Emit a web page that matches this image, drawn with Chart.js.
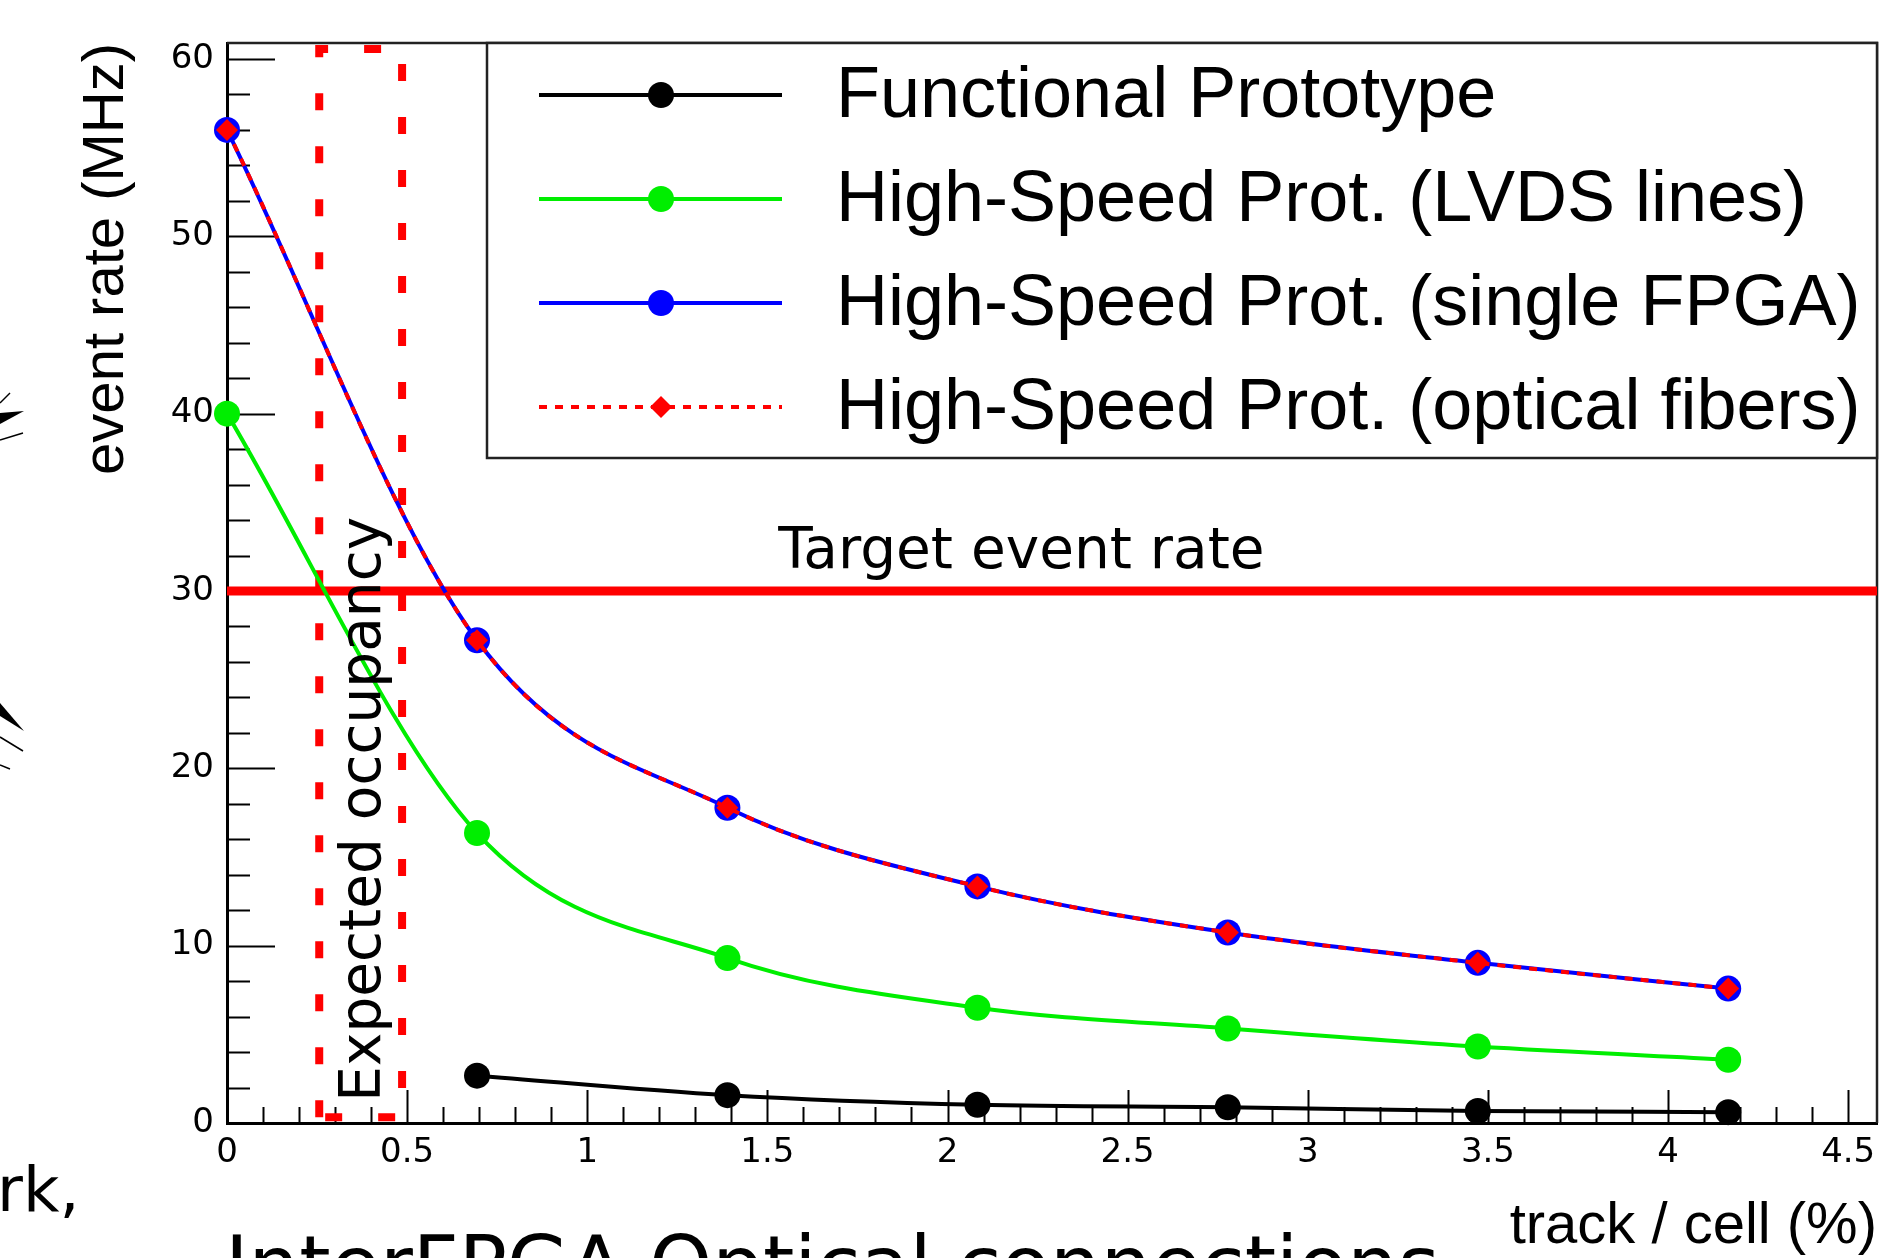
<!DOCTYPE html>
<html lang="en">
<head>
<meta charset="UTF-8">
<title>Event rate vs. track / cell occupancy</title>
<script src="https://cdn.jsdelivr.net/npm/chart.js@4.4.1/dist/chart.umd.min.js"></script>
<style>
  html, body { margin: 0; padding: 0; background: #fff; }
  #wrap { position: relative; width: 1902px; height: 1258px; overflow: hidden; }
  #chart { position: absolute; left: 0; top: 0; }
  .slide-text { position: absolute; font-family: 'DejaVu Sans', sans-serif; color: #000; white-space: nowrap; line-height: 1; }
  #arrows { position: absolute; left: 0; top: 0; }
</style>
</head>
<body>
<div id="wrap">
  <canvas id="chart" width="1902" height="1258"></canvas>
  <!-- bits of the surrounding slide that show in the picture -->
  <svg id="arrows" width="30" height="800">
    <line x1="0" y1="403" x2="10" y2="393" stroke="#000" stroke-width="1.5"/>
    <polygon points="0,413 24,411 0,424" fill="#000"/>
    <line x1="0" y1="440" x2="23" y2="433" stroke="#000" stroke-width="1.5"/>
    <polygon points="0,703 24,731 0,716" fill="#000"/>
    <line x1="0" y1="737" x2="23" y2="751" stroke="#000" stroke-width="1.5"/>
    <line x1="0" y1="765" x2="10" y2="769" stroke="#000" stroke-width="1.5"/>
  </svg>
  <div class="slide-text" style="left:-3px; top:1158px; font-size:63px;">rk,</div>
  <div class="slide-text" style="left:225px; top:1226px; font-size:80px;">InterFPGA Optical connections</div>
</div>

<script>
// x: track / cell (%), one point per extra track in 144 cells
const occupancy = [0, 0.694, 1.389, 2.083, 2.778, 3.472, 4.167];

// event rate (MHz) per prototype
const functionalProto = [null, 2.67, 1.57, 1.03, 0.89, 0.68, 0.61];
const lvdsLines = [40.0, 16.35, 9.3, 6.5, 5.33, 4.31, 3.57];
const singleFpga = [56.0, 27.22, 17.78, 13.34, 10.74, 9.03, 7.58];
const opticalFibers = [56.0, 27.22, 17.78, 13.34, 10.74, 9.03, 7.58];

const seriesNames = [
    'Functional Prototype',
    'High-Speed Prot. (LVDS lines)',
    'High-Speed Prot. (single FPGA)',
    'High-Speed Prot. (optical fibers)'
];

const targetRate = 30;
const expectedOccupancy = [0.256, 0.486];   // x range of the dashed box
const expectedBoxY = [0.33, 60.56];

const xTicks = [0, 0.5, 1, 1.5, 2, 2.5, 3, 3.5, 4, 4.5];
const yTicks = [0, 10, 20, 30, 40, 50, 60];
const xRange = [0, 4.58];
const yRange = [0, 60.9];

const pts = ys => occupancy.map((x, i) => ({ x, y: ys[i] })).filter(p => p.y !== null);

const series = (label, data, color, extra) => Object.assign({
    label, data,
    borderColor: color,
    backgroundColor: color,
    pointBackgroundColor: color,
    borderWidth: 4,
    pointRadius: 13,
    pointHoverRadius: 13,
    pointBorderWidth: 0,
    cubicInterpolationMode: 'monotone',
    clip: false,
    isSeries: true
}, extra);

const datasets = [
    series(seriesNames[0], pts(functionalProto), '#000000', { order: 4, legendRow: 0 }),
    series(seriesNames[1], pts(lvdsLines), '#00ee00', { order: 3, legendRow: 1 }),
    series(seriesNames[2], pts(singleFpga), '#0000ff', { order: 2, legendRow: 2 }),
    series(seriesNames[3], pts(opticalFibers), '#ff0000', {
        order: 1, legendRow: 3, borderDash: [8, 8], pointStyle: 'rectRot', pointRadius: 11, pointHoverRadius: 11
    }),
    {
        label: 'Target event rate',
        data: [{ x: xRange[0], y: targetRate }, { x: xRange[1], y: targetRate }],
        borderColor: '#ff0000', borderWidth: 9, pointRadius: 0, tension: 0, order: 5
    },
    {
        label: 'Expected occupancy',
        data: [
            { x: expectedOccupancy[0], y: expectedBoxY[0] },
            { x: expectedOccupancy[0], y: expectedBoxY[1] },
            { x: expectedOccupancy[1], y: expectedBoxY[1] },
            { x: expectedOccupancy[1], y: expectedBoxY[0] },
            { x: expectedOccupancy[0], y: expectedBoxY[0] }
        ],
        borderColor: '#ff0000', borderWidth: 8, borderDash: [17, 36], borderCapStyle: 'butt',
        pointRadius: 0, tension: 0, order: 6
    }
];

// ROOT-like frame: inward ticks, top/right frame, legend box, labels
const rootStyle = {
    id: 'rootStyle',
    beforeDatasetsDraw(chart) {
        const { ctx, chartArea: a, scales: { x, y } } = chart;
        ctx.save();
        ctx.strokeStyle = '#000';
        ctx.lineWidth = 2;
        ctx.beginPath();
        for (let i = 0; i * 0.1 <= xRange[1] + 1e-9; i++) {
            const px = Math.round(x.getPixelForValue(i * 0.1)) + 0.5;
            const len = i % 5 === 0 ? 33 : 16;
            ctx.moveTo(px, a.bottom);
            ctx.lineTo(px, a.bottom - len);
        }
        for (let i = 0; i * 2 <= yRange[1]; i++) {
            const py = Math.round(y.getPixelForValue(i * 2)) + 0.5;
            const len = i % 5 === 0 ? 48 : 23;
            ctx.moveTo(a.left, py);
            ctx.lineTo(a.left + len, py);
        }
        ctx.stroke();

        ctx.strokeStyle = '#222';
        ctx.lineWidth = 2.5;
        ctx.beginPath();
        ctx.moveTo(a.left, a.top);
        ctx.lineTo(a.right, a.top);
        ctx.lineTo(a.right, a.bottom);
        ctx.stroke();
        ctx.restore();
    },
    afterDatasetsDraw(chart) {
        const { ctx, chartArea: a, scales: { x, y } } = chart;
        ctx.save();
        ctx.fillStyle = '#000';

        // annotations
        ctx.font = '56.5px "DejaVu Sans"';
        ctx.textAlign = 'left';
        ctx.textBaseline = 'alphabetic';
        ctx.fillText('Target event rate', x.getPixelForValue(1.53), y.getPixelForValue(31.3));

        ctx.save();
        ctx.translate(x.getPixelForValue(0.4256), y.getPixelForValue(1.2));
        ctx.rotate(-Math.PI / 2);
        ctx.fillText('Expected occupancy', 0, 0);
        ctx.restore();

        // legend
        const box = { left: 487, top: a.top, right: a.right, bottom: 458 };
        ctx.fillStyle = '#fff';
        ctx.fillRect(box.left, box.top, box.right - box.left, box.bottom - box.top);
        ctx.strokeStyle = '#222';
        ctx.lineWidth = 2.5;
        ctx.strokeRect(box.left, box.top, box.right - box.left, box.bottom - box.top);

        const rows = [95, 199, 303, 407];
        chart.data.datasets.filter(d => d.isSeries).forEach(ds => {
            const cy = rows[ds.legendRow];
            ctx.save();
            ctx.strokeStyle = ds.borderColor;
            ctx.lineWidth = ds.borderWidth;
            ctx.setLineDash(ds.borderDash || []);
            ctx.beginPath();
            ctx.moveTo(539, cy);
            ctx.lineTo(782, cy);
            ctx.stroke();
            ctx.setLineDash([]);
            ctx.fillStyle = ds.pointBackgroundColor;
            Chart.helpers.drawPoint(ctx, {
                pointStyle: ds.pointStyle || 'circle', radius: ds.pointRadius, rotation: 0, borderWidth: 0
            }, 661, cy);
            ctx.restore();

            ctx.fillStyle = '#000';
            ctx.font = '72px "Liberation Sans"';
            ctx.textAlign = 'left';
            ctx.textBaseline = 'alphabetic';
            ctx.fillText(ds.label, 836, cy + 22);
        });
        ctx.restore();
    }
};

const tickFont = { family: 'DejaVu Sans', size: 34 };
const titleFont = { family: 'Liberation Sans', size: 58, lineHeight: 1.0 };

new Chart(document.getElementById('chart'), {
    type: 'line',
    data: { datasets },
    options: {
        responsive: false,
        animation: false,
        events: [],
        devicePixelRatio: 1,
        layout: { padding: { left: 0, top: 43, right: 25, bottom: 0 } },
        plugins: { legend: { display: false }, tooltip: { enabled: false } },
        scales: {
            x: {
                type: 'linear',
                min: xRange[0],
                max: xRange[1],
                afterBuildTicks: s => { s.ticks = xTicks.map(v => ({ value: v })); },
                afterFit: s => { s.height = 135; },
                grid: { display: false, drawTicks: false },
                border: { display: true, color: '#000', width: 3 },
                ticks: {
                    color: '#000', font: tickFont, padding: 10, maxRotation: 0, autoSkip: false,
                    callback: v => String(+v.toFixed(1))
                },
                title: {
                    display: true, text: 'track / cell (%)', align: 'end', color: '#000',
                    font: titleFont, padding: { top: 0, bottom: 2 }
                }
            },
            y: {
                type: 'linear',
                min: yRange[0],
                max: yRange[1],
                afterBuildTicks: s => { s.ticks = yTicks.map(v => ({ value: v })); },
                afterFit: s => { s.width = 227; },
                grid: { display: false, drawTicks: false },
                border: { display: true, color: '#000', width: 3 },
                ticks: {
                    color: '#000', font: tickFont, padding: 13,
                    callback: v => String(v)
                },
                title: {
                    display: true, text: 'event rate (MHz)', align: 'end', color: '#000',
                    font: titleFont, padding: { top: 78, bottom: 0 }
                }
            }
        }
    },
    plugins: [rootStyle]
});
</script>
</body>
</html>
